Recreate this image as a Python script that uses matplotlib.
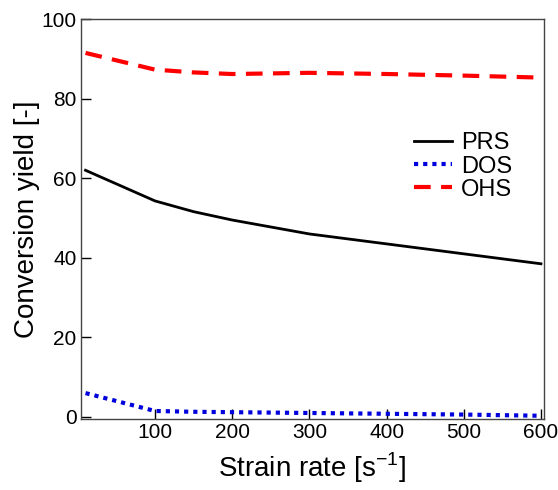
import matplotlib
matplotlib.use("Agg")
import matplotlib.pyplot as plt

plt.rcParams['font.family'] = ['Liberation Sans', 'DejaVu Sans']

strain_rate = [10, 100, 150, 200, 300, 400, 500, 600]
prs = [62.0, 54.3, 51.6, 49.5, 46.0, 43.5, 41.0, 38.5]
dos = [6.0, 1.5, 1.3, 1.2, 1.0, 0.8, 0.6, 0.3]
ohs = [91.5, 87.3, 86.6, 86.2, 86.5, 86.2, 85.8, 85.3]

xticks = [100, 200, 300, 400, 500, 600]
yticks = [0, 20, 40, 60, 80, 100]

fig = plt.figure(figsize=(5.58, 4.90), dpi=100)
ax = fig.add_axes([0.145, 0.145, 0.83, 0.816])

ax.plot(strain_rate, prs, color='black', lw=2.0, label='PRS')
ax.plot(strain_rate, dos, color='#0000dd', lw=3.0, linestyle=(0, (1, 1.2)), label='DOS')
ax.plot(strain_rate, ohs, color='red', lw=3.0, linestyle=(0, (4, 2.5)), label='OHS')

ax.set_xlim(4, 604)
ax.set_ylim(-0.5, 100)
ax.set_xticks(xticks)
ax.set_yticks(yticks)
ax.tick_params(direction='in', length=7, width=1, labelsize=15, top=False, right=False, pad=3)
for s in ax.spines.values():
    s.set_color('#444444')
    s.set_linewidth(1.0)

ax.set_xlabel('Strain rate [s$^{\\mathregular{-1}}$]', fontsize=20, labelpad=6)
ax.set_ylabel('Conversion yield [-]', fontsize=20, labelpad=1)

leg = ax.legend(loc='upper right', bbox_to_anchor=(0.977, 0.77), frameon=False, fontsize=17,
                handlelength=1.6, handletextpad=0.4, labelspacing=0.05)

fig.savefig('out.png', dpi=100)
